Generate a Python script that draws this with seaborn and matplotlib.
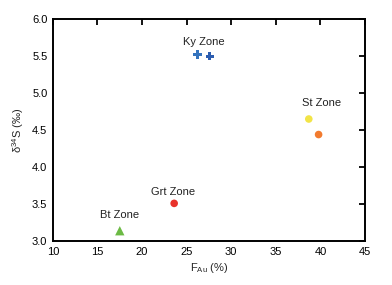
import matplotlib
matplotlib.use("Agg")
import matplotlib.pyplot as plt
import seaborn as sns
import pandas as pd

# points
zone = ["Ky", "Ky", "St", "St", "Grt", "Bt"]
f_au = [26.2, 27.6, 38.7, 39.8, 23.6, 17.5]
d34s = [5.52, 5.50, 4.65, 4.44, 3.51, 3.14]
colors = ["#3473bd", "#2c5db0", "#f2e447", "#f27b2f", "#e8322b", "#6cba45"]
markers = ["P", "P", "o", "o", "o", "^"]
sizes = [38, 38, 30, 30, 30, 45]

label_text = ["Ky Zone", "St Zone", "Grt Zone", "Bt Zone"]
label_x = [26.9, 40.1, 23.5, 17.5]
label_y = [5.69, 4.87, 3.67, 3.35]

df = pd.DataFrame({"zone": zone, "F_Au": f_au, "d34S": d34s})

sns.set_style("white")
plt.rcParams["font.family"] = ["Liberation Sans", "DejaVu Sans"]

fig = plt.figure(figsize=(3.92, 2.85), dpi=100)
ax = fig.add_axes([0.135, 0.154, 0.796, 0.779])

for i in range(len(df)):
    sns.scatterplot(x=[df.F_Au[i]], y=[df.d34S[i]], ax=ax, color=colors[i],
                    marker=markers[i], s=sizes[i], edgecolor="none", legend=False)

for t, x, y in zip(label_text, label_x, label_y):
    ax.text(x, y, t, ha="center", va="center", fontsize=8, color="#222222")

ax.set_xlim(10, 45)
ax.set_ylim(3.0, 6.0)
ax.set_xticks(range(10, 46, 5))
ax.set_yticks([3.0, 3.5, 4.0, 4.5, 5.0, 5.5, 6.0])
ax.set_yticklabels([f"{v:.1f}" for v in ax.get_yticks()])
ax.tick_params(direction="in", length=4.5, width=1.3, labelsize=8,
               top=True, right=True, labeltop=False, labelright=False,
               colors="black", pad=4)
for sp in ax.spines.values():
    sp.set_linewidth(1.4)
    sp.set_color("black")

ax.set_xlabel(r"F$_{\mathregular{Au}}$ (%)", fontsize=8, labelpad=3)
ax.set_ylabel("δ$^{\mathregular{34}}$S (‰)", fontsize=8, labelpad=4)

fig.savefig("out.png", dpi=100)
